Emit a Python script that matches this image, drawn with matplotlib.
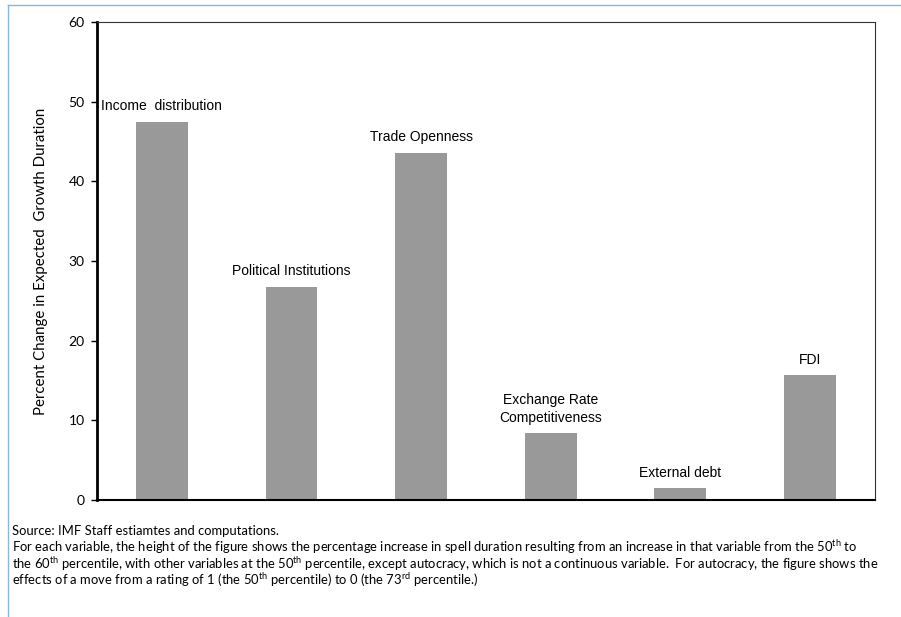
import matplotlib.pyplot as plt
from matplotlib.lines import Line2D

plt.rcParams['font.family'] = ['Liberation Sans', 'DejaVu Sans']
plt.rcParams['mathtext.fontset'] = 'custom'
plt.rcParams['mathtext.rm'] = 'Lato'

categories = ['Income  distribution', 'Political Institutions', 'Trade Openness',
              'Exchange Rate\nCompetitiveness', 'External debt', 'FDI']
values = [47.5, 26.8, 43.6, 8.4, 1.5, 15.7]
yticks = [0, 10, 20, 30, 40, 50, 60]

fig = plt.figure(figsize=(9.01, 6.17), dpi=100)
ax = fig.add_axes([0.1077, 0.1896, 0.8633, 0.7747])

x = range(len(categories))
ax.bar(x, values, width=0.4, color='#999999')
for xi, v, name in zip(x, values, categories):
    ax.annotate(name, (xi, v), xytext=(0, 6), textcoords='offset points',
                ha='center', va='bottom', fontsize=10, linespacing=1.3)

ax.set_xlim(-0.5, len(categories) - 0.5)
ax.set_ylim(0, 60)
ax.set_yticks(yticks)
ax.set_yticklabels([str(t) for t in yticks], family='Lato')
ax.set_xticks([])
ax.tick_params(axis='y', labelsize=10, length=4, width=1, pad=5)
ax.set_ylabel('Percent Change in Expected  Growth Duration', fontsize=10.8,
              family='Lato', labelpad=15)
ax.spines['left'].set_linewidth(2)
ax.spines['bottom'].set_linewidth(1.5)
for s in ['top', 'right']:
    ax.spines[s].set_linewidth(0.8)
    ax.spines[s].set_color('#333333')

# frame around the whole exhibit
fig.add_artist(Line2D([8 / 901, 1], [1 - 5 / 617] * 2, color='#8db4dd', lw=1))
fig.add_artist(Line2D([8 / 901] * 2, [0, 1 - 5 / 617], color='#8db4dd', lw=1))

notes = [
    'Source: IMF Staff estiamtes and computations.',
    'For each variable, the height of the figure shows the percentage increase in spell duration resulting from an increase in that variable from the 50$^{\\mathrm{th}}$ to',
    'the 60$^{\\mathrm{th}}$ percentile, with other variables at the 50$^{\\mathrm{th}}$ percentile, except autocracy, which is not a continuous variable.  For autocracy, the figure shows the',
    'effects of a move from a rating of 1 (the 50$^{\\mathrm{th}}$ percentile) to 0 (the 73$^{\\mathrm{rd}}$ percentile.)',
]
for i, line in enumerate(notes):
    fig.text(12 / 901, 1 - (531 + 16.4 * i) / 617, line, fontsize=9.4,
             family='Lato', va='center', ha='left')

fig.savefig('out.png', dpi=100)
